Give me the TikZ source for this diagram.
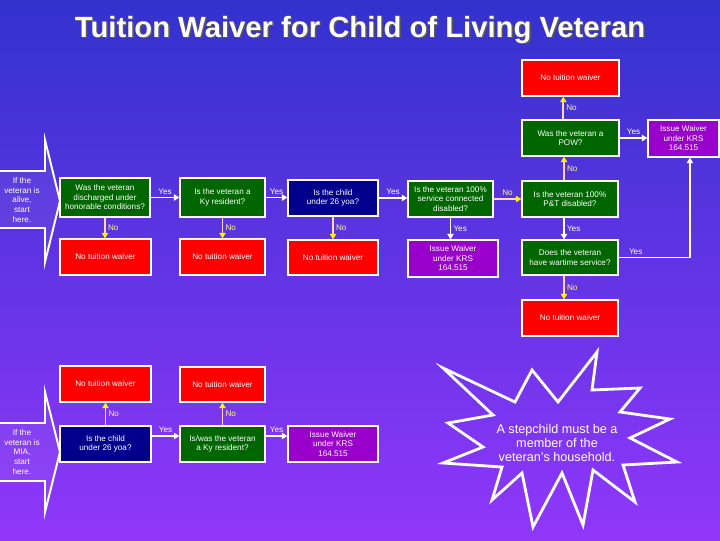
\documentclass[tikz,border=0pt]{standalone}
\usepackage{fontspec}
\setmainfont{Liberation Sans}
\usetikzlibrary{arrows.meta}
\definecolor{bgtop}{RGB}{50,50,205}
\definecolor{bgbot}{RGB}{145,55,250}
\definecolor{qgreen}{RGB}{0,102,0}
\definecolor{qnavy}{RGB}{0,0,140}
\definecolor{nored}{RGB}{255,0,0}
\definecolor{okpurple}{RGB}{153,0,204}
\definecolor{noline}{RGB}{255,215,170}
\definecolor{nolabel}{RGB}{255,255,120}
\tikzset{
  box/.style={draw=white,line width=0.8pt,text=white,align=center,inner sep=0pt,
    font=\fontsize{5.8}{6.8}\selectfont},
  sz/.style 2 args={minimum width=#1*0.025cm,minimum height=#2*0.025cm},
  qbox/.style={box,fill=qgreen},
  kidbox/.style={box,fill=qnavy},
  nobox/.style={box,fill=nored},
  okbox/.style={box,fill=okpurple},
  yesarr/.style={draw=white,line width=1.3pt,-{Triangle[length=4pt,width=4.5pt]}},
  noarr/.style={draw=noline,line width=1.3pt,-{Triangle[length=4pt,width=4.5pt,color=yellow]}},
  yeslbl/.style={text=white,font=\fontsize{5.8}{6.8}\selectfont,inner sep=1.5pt},
  nolbl/.style={text=nolabel,font=\fontsize{5.8}{6.8}\selectfont,inner sep=1.5pt},
  startarr/.style={draw=white,line width=1.4pt,fill=white,fill opacity=0.06,line join=miter},
}
\begin{document}
\begin{tikzpicture}[x=0.025cm,y=-0.025cm]
% background
\shade[top color=bgtop,bottom color=bgbot] (0,0) rectangle (720,540);
\useasboundingbox (0,0) rectangle (720,540);
% title with shadow
\node[anchor=base,text=black!65,font=\fontsize{20.8}{24}\bfseries\selectfont] at (361.5,38.5) {Tuition Waiver for Child of Living Veteran};
\node[anchor=base,text=white,font=\fontsize{20.8}{24}\bfseries\selectfont] (title) at (360,37) {Tuition Waiver for Child of Living Veteran};

% start arrows
\draw[startarr] (-2,171) -- (45,171) -- (45,140) -- (60,201) -- (45,262) -- (45,228) -- (-2,228);
\node[box,draw=none] (alive) at (22,200) {If the\\veteran is\\alive,\\start\\here.};
\draw[startarr] (-2,423) -- (45,423) -- (45,392) -- (60,452) -- (45,512) -- (45,481) -- (-2,481);
\node[box,draw=none] (mia) at (22,452) {If the\\veteran is\\MIA,\\start\\here.};

% top right
\node[nobox,sz={97}{36}] (nopow) at (570.5,78) {No tuition waiver};
\node[qbox,sz={97}{36}] (pow) at (570.5,138) {Was the veteran a\\POW?};
\node[okbox,sz={71}{37}] (oktop) at (683.5,138.5) {Issue Waiver\\under KRS\\164.515};

% living veteran row
\node[qbox,sz={90}{39}] (disch) at (105,197.5) {Was the veteran\\discharged under\\honorable conditions?};
\node[qbox,sz={85}{39}] (kyres) at (222.5,197.5) {Is the veteran a\\Ky resident?};
\node[kidbox,sz={90}{36}] (age) at (333,198) {Is the child\\under 26 yoa?};
\node[qbox,sz={85}{36}] (svc) at (450.5,199) {Is the veteran 100\%\\service connected\\disabled?};
\node[qbox,sz={96}{36}] (pt) at (570,199) {Is the veteran 100\%\\P\&T disabled?};
\node[nobox,sz={91}{36}] (noa) at (105.5,257) {No tuition waiver};
\node[nobox,sz={85}{36}] (nob) at (222.5,257) {No tuition waiver};
\node[nobox,sz={90}{35}] (noc) at (333,257.5) {No tuition waiver};
\node[okbox,sz={90}{37}] (okmid) at (453,258.5) {Issue Waiver\\under KRS\\164.515};
\node[qbox,sz={96}{35}] (war) at (570,257.5) {Does the veteran\\have wartime service?};
\node[nobox,sz={96}{36}] (nod) at (570,318) {No tuition waiver};

% MIA row
\node[nobox,sz={91}{36}] (noe) at (105.5,384) {No tuition waiver};
\node[nobox,sz={85}{35}] (nof) at (222.5,384.5) {No tuition waiver};
\node[kidbox,sz={91}{36}] (agem) at (105.5,444) {Is the child\\under 26 yoa?};
\node[qbox,sz={85}{36}] (kym) at (222.5,444) {Is/was the veteran\\a Ky resident?};
\node[okbox,sz={90}{36}] (okbot) at (333,444) {Issue Waiver\\under KRS\\164.515};

% connectors
\draw[yesarr] (disch.east) -- node[yeslbl,above]{Yes} (kyres.west);
\draw[yesarr] (kyres.east) -- node[yeslbl,above]{Yes} (kyres.east -| age.west);
\draw[yesarr] (age.east) -- node[yeslbl,above]{Yes} (age.east -| svc.west);
\draw[noarr] (svc.east) -- node[nolbl,above]{No} (svc.east -| pt.west);
\draw[noarr] (disch.south) -- node[nolbl,right]{No} (disch.south |- noa.north);
\draw[noarr] (kyres.south) -- node[nolbl,right]{No} (nob.north);
\draw[noarr] (age.south) -- node[nolbl,right]{No} (noc.north);
\draw[yesarr] (svc.south) -- node[yeslbl,right]{Yes} (svc.south |- okmid.north);
\draw[noarr] ([xshift=-0.15cm]pt.north) -- node[nolbl,right]{No} ([xshift=-0.15cm]pt.north |- pow.south);
\draw[noarr] ([xshift=-0.18cm]pow.north) -- node[nolbl,right]{No} ([xshift=-0.18cm]pow.north |- nopow.south);
\draw[yesarr] (pow.east) -- node[yeslbl,above]{Yes} (pow.east -| oktop.west);
\draw[yesarr] ([xshift=-0.15cm]pt.south) -- node[yeslbl,right]{Yes} ([xshift=-0.15cm]pt.south |- war.north);
\draw[yesarr] (war.east) -| node[yeslbl,above,pos=0.12]{Yes} ([xshift=0.16cm]oktop.south);
\draw[noarr] ([xshift=-0.15cm]war.south) -- node[nolbl,right]{No} ([xshift=-0.15cm]war.south |- nod.north);
\draw[noarr] (agem.north) -- node[nolbl,right]{No} (agem.north |- noe.south);
\draw[noarr] (kym.north) -- node[nolbl,right]{No} (kym.north |- nof.south);
\draw[yesarr] ([yshift=0.2cm]agem.east) -- node[yeslbl,above]{Yes} ([yshift=0.2cm]agem.east -| kym.west);
\draw[yesarr] ([yshift=0.2cm]kym.east) -- node[yeslbl,above]{Yes} ([yshift=0.2cm]kym.east -| okbot.west);

% stepchild burst
\draw[white,line width=2pt,line join=miter] (597,352) -- (592,390) -- (640,388) -- (620,412) -- (670,419)
  -- (630,438) -- (677,462) -- (623,465) -- (635,502) -- (593,470) -- (583,525) -- (562,473)
  -- (533,527) -- (522,473) -- (492,500) -- (502,467) -- (443,463) -- (483,447) -- (448,423)
  -- (493,415) -- (443,368) -- (515,402) -- (532,370) -- (558,402) -- cycle;
\node[text=white,align=center,font=\fontsize{9}{10}\selectfont] (step) at (557,443) {A stepchild must be a\\member of the\\veteran's household.};
\end{tikzpicture}
\end{document}
